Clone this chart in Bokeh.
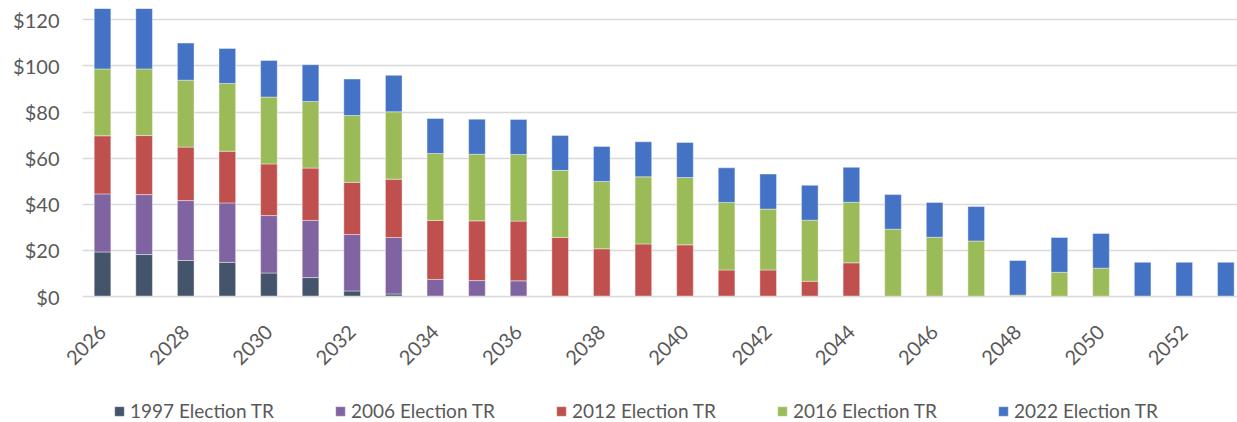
from math import pi
from bokeh.plotting import figure
from bokeh.layouts import column
from bokeh.models import (ColumnDataSource, Range1d, FixedTicker, PrintfTickFormatter,
                          Legend, LegendItem)
from bokeh.embed import file_html
from bokeh.resources import INLINE

years = list(range(2026, 2054))
e1997 = [19.3, 18.2, 15.6, 14.8, 10.2, 8.2, 2.4, 1.1] + [0] * 20
e2006 = [25.2, 26.0, 26.0, 25.8, 24.9, 24.8, 24.5, 24.5, 7.4, 6.9, 6.8] + [0] * 17
e2012 = [25.2, 25.6, 23.2, 22.4, 22.4, 22.7, 22.6, 25.3, 25.6, 25.9, 25.9, 25.6,
         20.7, 22.8, 22.4, 11.5, 11.5, 6.6, 14.6] + [0] * 9
e2016 = [29.0, 28.9, 29.0, 29.4, 29.0, 28.9, 29.0, 29.2, 29.0, 28.9, 28.9, 29.1,
         29.2, 29.1, 29.2, 29.3, 26.4, 26.5, 26.3, 29.2, 25.7, 24.1, 0.6, 10.5,
         12.3, 0, 0, 0]
e2022 = [28.0, 28.0, 16.1, 15.2, 15.9, 15.9, 15.8, 15.8, 15.2, 15.2, 15.2, 15.1,
         15.2, 15.2, 15.2, 15.0, 15.2, 15.1, 15.1, 15.0, 15.1, 14.9, 15.0, 15.1,
         15.0, 14.8, 14.8, 14.8]
series = ["e1997", "e2006", "e2012", "e2016", "e2022"]
labels = ["1997 Election TR", "2006 Election TR", "2012 Election TR",
          "2016 Election TR", "2022 Election TR"]
colors = ["#44546A", "#8064A2", "#C0504D", "#9BBB59", "#4472C4"]
x_ticks = list(range(2026, 2054, 2))
y_ticks = [0, 20, 40, 60, 80, 100, 120]

src = ColumnDataSource(dict(year=years, e1997=e1997, e2006=e2006, e2012=e2012,
                            e2016=e2016, e2022=e2022))

FONT = "Lato"
TXT = "#595959"

p = figure(width=1237, height=380, output_backend="svg", toolbar_location=None,
           x_range=Range1d(2025.519, 2053.28), y_range=Range1d(0, 124.9),
           min_border_left=82, min_border_right=0, min_border_top=8,
           min_border_bottom=84, x_axis_location="below")
p.outline_line_color = None
p.background_fill_color = "white"
p.border_fill_color = "white"

p.vbar_stack(series, x="year", width=0.40, source=src, color=colors,
             line_color="white", line_alpha=0.5, line_width=0.8)

p.xgrid.grid_line_color = None
p.ygrid.grid_line_color = "#D9D9D9"
p.ygrid.grid_line_width = 1.5
p.ygrid.ticker = FixedTicker(ticks=y_ticks)

p.yaxis.ticker = FixedTicker(ticks=y_ticks)
p.yaxis.formatter = PrintfTickFormatter(format="$%d")
p.yaxis.axis_line_color = None
p.yaxis.major_tick_line_color = None
p.yaxis.minor_tick_line_color = None
p.yaxis.major_label_text_font = FONT
p.yaxis.major_label_text_font_size = "20px"
p.yaxis.major_label_text_color = TXT
p.yaxis.major_label_standoff = 17

p.xaxis.ticker = FixedTicker(ticks=x_ticks)
p.xaxis.axis_line_color = "#D9D9D9"
p.xaxis.axis_line_width = 1.5
p.xaxis.major_tick_line_color = None
p.xaxis.minor_tick_line_color = None
p.xaxis.major_label_orientation = pi / 4
p.xaxis.major_label_text_font = FONT
p.xaxis.major_label_text_font_size = "20px"
p.xaxis.major_label_text_color = TXT
p.xaxis.major_label_standoff = 26

# legend strip (its own small figure; bars lie outside its visible range)
p2 = figure(width=1237, height=42, output_backend="svg", toolbar_location=None,
            x_range=Range1d(0, 1), y_range=Range1d(0, 1),
            x_axis_type=None, y_axis_type=None,
            min_border_left=0, min_border_right=0, min_border_top=0,
            min_border_bottom=0)
p2.outline_line_color = None
p2.grid.visible = False
rs = p2.vbar_stack(series, x="year", width=0.40, source=src, color=colors,
                   line_color="white", line_alpha=0.5, line_width=0.8)

items = [LegendItem(label=l, renderers=[r]) for l, r in zip(labels, rs)]
legend = Legend(items=items, orientation="horizontal", location=(31, 0),
                glyph_width=12, glyph_height=12, label_standoff=5, label_width=150,
                spacing=54, padding=0, margin=0, border_line_color=None,
                background_fill_alpha=0, label_text_font=FONT,
                label_text_font_size="19px", label_text_color=TXT)
p2.add_layout(legend, "center")

layout = column(p, p2, spacing=0)
open("out.html", "w").write(file_html(layout, INLINE))
